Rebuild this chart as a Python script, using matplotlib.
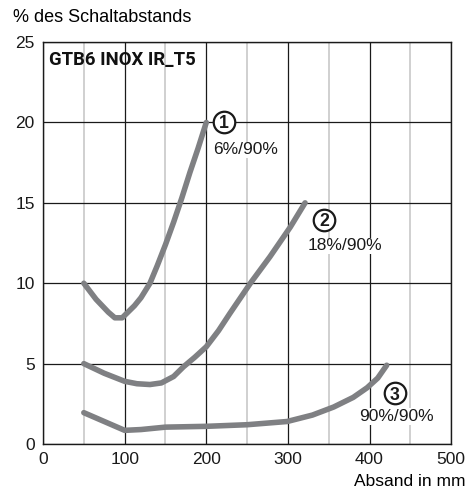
import matplotlib.pyplot as plt
from matplotlib.ticker import MultipleLocator

# Kurve 1: 6%/90%
x1 = [50, 65, 80, 88, 97, 104, 112, 120, 131, 140, 150, 160, 170, 180, 190, 200]
y1 = [10.0, 9.0, 8.2, 7.85, 7.85, 8.2, 8.6, 9.1, 10.0, 11.1, 12.4, 13.8, 15.3, 16.9, 18.4, 20.0]

# Kurve 2: 18%/90%
x2 = [50, 75, 100, 115, 131, 145, 160, 172, 186, 200, 215, 229, 254, 278, 303, 321]
y2 = [5.0, 4.4, 3.9, 3.75, 3.7, 3.8, 4.2, 4.8, 5.4, 6.05, 7.05, 8.13, 10.0, 11.65, 13.5, 15.0]

# Kurve 3: 90%/90%
x3 = [50, 75, 100, 120, 150, 200, 250, 299, 330, 356, 380, 397, 410, 421]
y3 = [1.95, 1.4, 0.85, 0.9, 1.05, 1.1, 1.2, 1.4, 1.8, 2.3, 2.9, 3.5, 4.1, 4.9]

numbers = ['1', '2', '3']
labels = ['6%/90%', '18%/90%', '90%/90%']

plt.rcParams['font.family'] = ['Liberation Sans', 'DejaVu Sans']

fig = plt.figure(figsize=(4.7, 4.95), dpi=100)
ax = fig.add_axes([0.0915, 0.103, 0.8685, 0.812])

ax.set_xlim(0, 500)
ax.set_ylim(0, 25)
ax.xaxis.set_major_locator(MultipleLocator(100))
ax.xaxis.set_minor_locator(MultipleLocator(50))
ax.yaxis.set_major_locator(MultipleLocator(5))
ax.grid(which='major', color='#1a1a1a', lw=0.9)
ax.grid(which='minor', axis='x', color='#c4c4c4', lw=1.1)
ax.set_axisbelow(True)
ax.tick_params(which='both', length=0, labelsize=12.5, colors='#1a1a1a')
ax.tick_params(axis='x', pad=6)
ax.tick_params(axis='y', pad=6)
for s in ax.spines.values():
    s.set_color('#1a1a1a')
    s.set_linewidth(1)

for xs, ys in [(x1, y1), (x2, y2), (x3, y3)]:
    ax.plot(xs, ys, color='#7f8083', lw=4.0, solid_capstyle='round', solid_joinstyle='round')

# Kreisnummern und Beschriftung der Kurven
circ_pos = [(222, 20.02), (344, 13.93), (431, 3.15)]
text_pos = [(208, 18.3), (324, 12.33), (387, 1.7)]
for num, lab, (cx, cy), (tx, ty) in zip(numbers, labels, circ_pos, text_pos):
    ax.plot(cx, cy, 'o', ms=15.5, mfc='white', mec='#1a1a1a', mew=1.6, zorder=5)
    ax.annotate(num, (cx, cy), xytext=(0, -4.5), textcoords='offset points',
                ha='center', va='baseline', fontsize=12.8, fontweight='bold',
                color='#1a1a1a', zorder=6)
    ax.text(tx, ty, lab, fontsize=12.5, ha='left', va='center', color='#1a1a1a',
            bbox=dict(facecolor='white', edgecolor='none', pad=0.5))

ax.text(7, 23.9, 'GTB6 INOX IR_T5', fontsize=13.3, fontweight='bold', family='Roboto',
        ha='left', va='center', color='#111111')

fig.text(13 / 470, 1 - 18 / 495, '% des Schaltabstands', fontsize=13, ha='left', va='center')
fig.text(466 / 470, 1 - 481 / 495, 'Absand in mm', fontsize=12.5, ha='right', va='center')

fig.savefig('out.png', dpi=100, facecolor='white')
